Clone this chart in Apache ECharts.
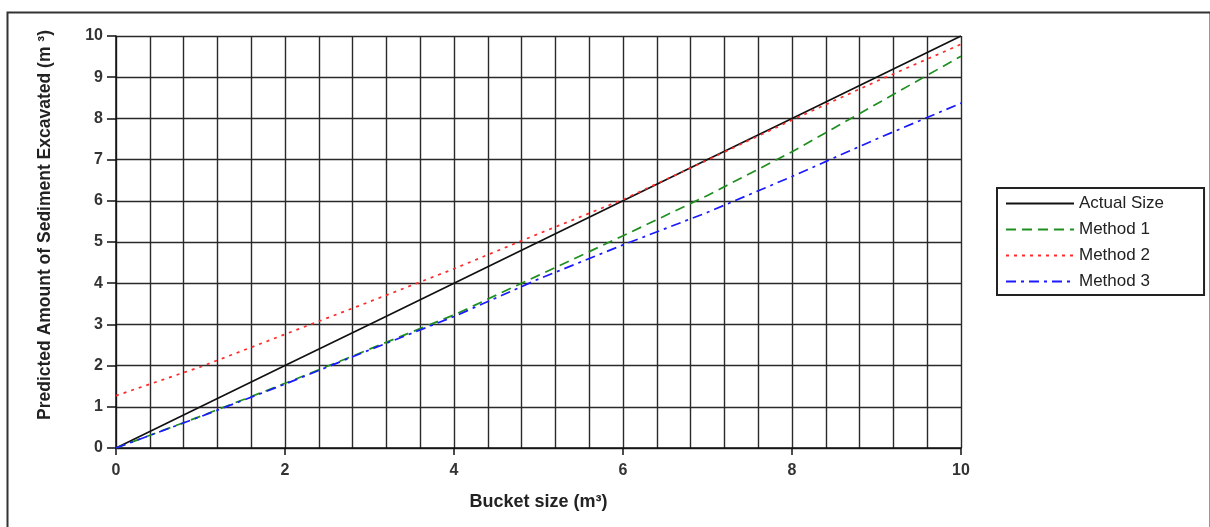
<!DOCTYPE html>
<html>
<head>
<meta charset="utf-8">
<script src="https://cdn.jsdelivr.net/npm/echarts@6/dist/echarts.min.js"></script>
<style>html,body{margin:0;padding:0;background:#fff;}#chart{width:1210px;height:527px;}</style>
</head>
<body>
<div id="chart"></div>
<script>
var bucketSize = [0, 1, 2, 3, 4, 5, 6, 7, 8, 9, 10];
var actualSize = [0, 1, 2, 3, 4, 5, 6, 7, 8, 9, 10];
var method1 = [0, 0.77, 1.57, 2.4, 3.23, 4.19, 5.15, 6.13, 7.19, 8.35, 9.51];
var method2 = [1.27, 1.97, 2.76, 3.55, 4.35, 5.2, 6.03, 6.99, 7.96, 8.9, 9.8];
var method3 = [0, 0.76, 1.55, 2.38, 3.19, 4.1, 4.93, 5.72, 6.59, 7.5, 8.37];
var seriesNames = ['Actual Size', 'Method 1', 'Method 2', 'Method 3'];
var xTitle = 'Bucket size (m\u00b3)';
var yTitle = 'Predicted Amount of Sediment Excavated (m \u00b3)';

function pairs(ys) { return bucketSize.map(function (x, i) { return [x, ys[i]]; }); }

var styles = [
  { color: '#111111', type: 'solid', width: 1.7 },
  { color: '#1f8f1f', type: [10, 6], width: 1.7 },
  { color: '#ff2a2a', type: [3, 5], width: 1.7 },
  { color: '#1a1aff', type: [10, 5, 3, 5], width: 1.7 }
];
var dataSets = [actualSize, method1, method2, method3];

var chart = echarts.init(document.getElementById('chart'));
var gridLine = { color: '#2a2a2a', width: 1.4 };
chart.setOption({
  animation: false,
  backgroundColor: '#ffffff',
  textStyle: { fontFamily: 'Liberation Sans, Arial, sans-serif' },
  graphic: [{
    type: 'rect', left: 5, top: 10, shape: { width: 1203, height: 530 },
    style: { fill: 'none', stroke: '#333', lineWidth: 2 }, silent: true, z: -10
  }],
  grid: { left: 116, right: 249, top: 36, bottom: 79 },
  legend: {
    orient: 'vertical', left: 997, top: 188,
    padding: [7, 40, 5, 8],
    itemWidth: 68, itemHeight: 14, itemGap: 9,
    borderColor: '#222', borderWidth: 2, backgroundColor: '#fff',
    itemStyle: { opacity: 0 },
    textStyle: { fontSize: 17, lineHeight: 17, color: '#222', fontFamily: 'Liberation Sans, Arial, sans-serif' },
    data: seriesNames
  },
  xAxis: {
    type: 'value', min: 0, max: 10, interval: 2,
    name: xTitle, nameLocation: 'middle', nameGap: 45,
    nameTextStyle: { fontSize: 18, fontWeight: 'bold', color: '#222' },
    axisLine: { show: true, onZero: false, lineStyle: { color: '#111', width: 1.5 } },
    axisTick: { show: true, inside: false, length: 7, lineStyle: { color: '#111', width: 1.5 } },
    axisLabel: { margin: 15, fontSize: 16, fontWeight: 'bold', color: '#333' },
    splitLine: { show: true, lineStyle: gridLine },
    minorTick: { show: false, splitNumber: 5 },
    minorSplitLine: { show: true, lineStyle: gridLine }
  },
  yAxis: {
    type: 'value', min: 0, max: 10, interval: 1,
    name: yTitle, nameLocation: 'middle', nameGap: 62,
    nameTextStyle: { fontSize: 17.5, fontWeight: 'bold', color: '#222', padding: [0, 0, 0, 34] },
    axisLine: { show: true, onZero: false, lineStyle: { color: '#111', width: 1.5 } },
    axisTick: { show: true, inside: false, length: 9, lineStyle: { color: '#111', width: 1.5 } },
    axisLabel: { margin: 13, fontSize: 16, fontWeight: 'bold', color: '#333' },
    splitLine: { show: true, lineStyle: gridLine }
  },
  series: dataSets.map(function (d, i) {
    return {
      name: seriesNames[i], type: 'line', data: pairs(d), symbol: 'none',
      lineStyle: styles[i], itemStyle: { color: styles[i].color }, z: 3 + i
    };
  })
});
</script>
</body>
</html>
